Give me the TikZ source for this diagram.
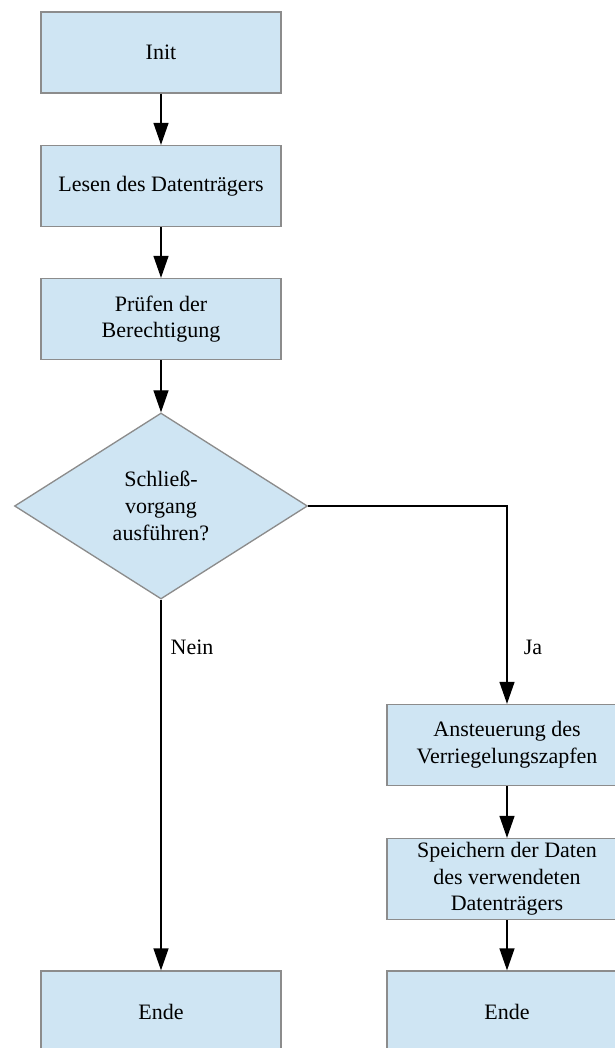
\documentclass[tikz,border=0pt]{standalone}
\usepackage{fontspec}
\setmainfont{Liberation Serif}
\usetikzlibrary{shapes.geometric,arrows.meta}
\definecolor{boxfill}{RGB}{207,229,243}
\definecolor{boxline}{RGB}{140,140,140}
\begin{document}
\begin{tikzpicture}[x=0.75pt,y=-0.75pt,
  every node/.style={font=\fontsize{16.5}{20}\selectfont},
  stepbox/.style={draw=boxline,fill=boxfill,line width=1pt,
    minimum width=180pt,minimum height=60.75pt,inner sep=0pt,align=center},
  decision/.style={diamond,draw=boxline,fill=boxfill,line width=1pt,
    minimum width=219.75pt,minimum height=139.5pt,inner sep=0pt,align=center},
  flow/.style={draw=black,line width=1pt,-{Triangle[length=16.5pt,width=11.25pt]}},
  branch/.style={inner sep=0pt}
]
\useasboundingbox (0,0) rectangle (614,1048);

% process steps
\node[stepbox] (init)  at (161,52.5)  {Init};
\node[stepbox] (read)  at (161,186)   {Lesen des Datenträgers};
\node[stepbox] (check) at (161,319)   {Prüfen der\\Berechtigung};
\node[decision] (close) at (161,506)  {Schließ-\\vorgang\\ausführen?};
\node[stepbox] (lock)  at (507,745)   {Ansteuerung des\\Verriegelungszapfen};
\node[stepbox] (save)  at (507,879)   {Speichern der Daten\\des verwendeten\\Datenträgers};
\node[stepbox] (endl)  at (161,1011.5) {Ende};
\node[stepbox] (endr)  at (507,1011.5) {Ende};

% connectors
\draw[flow] (init) -- (read);
\draw[flow] (read) -- (check);
\draw[flow] (check) -- (close);
\draw[flow] (close.south) -- (endl);
\draw[flow] (close.east) -| (lock);
\draw[flow] (lock) -- (save);
\draw[flow] (save) -- (endr);

% branch labels
\node[branch] (no)  at (192,647) {Nein};
\node[branch] (yes) at (533,647) {Ja};
\end{tikzpicture}
\end{document}
